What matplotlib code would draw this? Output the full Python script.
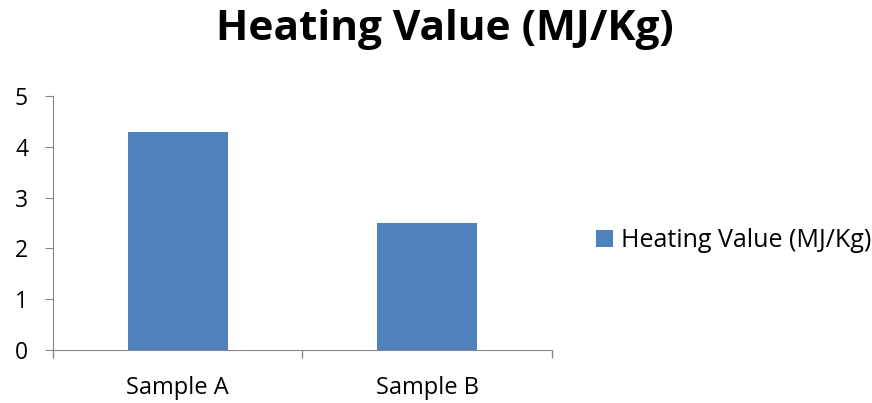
import matplotlib.pyplot as plt
import numpy as np

samples = ['Sample A', 'Sample B']
heating_value = [4.3, 2.5]
series_name = 'Heating Value (MJ/Kg)'

plt.rcParams['font.family'] = ['Open Sans', 'DejaVu Sans']

fig = plt.figure(figsize=(8.72, 4.03), dpi=100)
ax = fig.add_axes([0.0608, 0.1315, 0.5722, 0.6303])

x = np.arange(len(samples))
ax.bar(x, heating_value, width=0.4, color='#4f81bd', label=series_name, zorder=2)

ax.set_xlim(-0.5, len(samples) - 0.5)
ax.set_ylim(0, 5)
ax.set_yticks(range(0, 6))
ax.set_xticks(x)
ax.set_xticklabels(samples)
ax.set_xticks(np.arange(-0.5, len(samples), 1), minor=True)
ax.tick_params(axis='x', which='major', length=0, labelsize=17, pad=19)
ax.tick_params(axis='x', which='minor', length=6, color='#868686', width=1)
ax.tick_params(axis='y', length=6, color='#868686', labelsize=16.5, pad=12)

for s in ['top', 'right']:
    ax.spines[s].set_visible(False)
for s in ['left', 'bottom']:
    ax.spines[s].set_color('#868686')

fig.suptitle(series_name, x=0.51, y=0.978, fontsize=30.5, fontweight='bold')

fig.legend(loc='center left', bbox_to_anchor=(0.658, 0.402), frameon=False,
           fontsize=18, handlelength=0.65, handleheight=0.65, handletextpad=0.35)

fig.savefig('out.png', dpi=100)
